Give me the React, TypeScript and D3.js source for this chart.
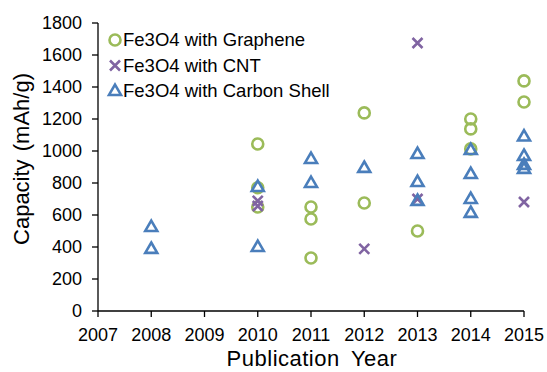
import React from 'react'
import * as d3 from 'd3'

const years = [2007, 2008, 2009, 2010, 2011, 2012, 2013, 2014, 2015]
const capTicks = [0, 200, 400, 600, 800, 1000, 1200, 1400, 1600, 1800]

const grapheneYears = [2010, 2010, 2010, 2011, 2011, 2011, 2012, 2012, 2013, 2014, 2014, 2014, 2015, 2015]
const grapheneCap = [1044, 770, 650, 650, 575, 331, 1238, 675, 500, 1200, 1138, 1013, 1438, 1306]

const cntYears = [2010, 2010, 2012, 2013, 2013, 2015]
const cntCap = [688, 656, 388, 1675, 700, 681]

const shellYears = [2008, 2008, 2010, 2010, 2011, 2011, 2012, 2013, 2013, 2013, 2014, 2014, 2014, 2014, 2015, 2015, 2015, 2015]
const shellCap = [525, 388, 775, 400, 950, 800, 894, 981, 806, 688, 1006, 856, 700, 613, 1090, 969, 913, 888]

const GREEN = '#9BBB59'
const PURPLE = '#8064A2'
const BLUE = '#4A7EBB'

const W = 547
const H = 372
const left = 98
const right = 524
const top = 23
const bottom = 311

const x = d3.scaleLinear().domain([2007, 2015]).range([left, right])
const y = d3.scaleLinear().domain([0, 1800]).range([bottom, top])

const triPath = (s) => {
  const h = (s * Math.sqrt(3)) / 2
  return `M0,${-h * 0.62}L${s / 2},${h * 0.38}L${-s / 2},${h * 0.38}Z`
}

const Circle = ({ cx, cy }) => (
  <circle cx={cx} cy={cy} r={5.5} fill="none" stroke={GREEN} strokeWidth={2.6} />
)
const Cross = ({ cx, cy }) => (
  <path
    transform={`translate(${cx},${cy})`}
    d="M-5,-5L5,5M-5,5L5,-5"
    stroke={PURPLE}
    strokeWidth={2.6}
    fill="none"
  />
)
const Tri = ({ cx, cy }) => (
  <path
    transform={`translate(${cx},${cy})`}
    d={triPath(12)}
    stroke={BLUE}
    strokeWidth={2.6}
    fill="none"
  />
)

const legend = [
  { label: 'Fe3O4 with Graphene', Mark: Circle },
  { label: 'Fe3O4 with CNT', Mark: Cross },
  { label: 'Fe3O4 with Carbon Shell', Mark: Tri },
]

export default function App() {
  const font = 'Arial, "Liberation Sans", sans-serif'
  return (
    <svg
      width={W}
      height={H}
      style={{ position: 'absolute', left: 0, top: 0, background: '#fff' }}
      fontFamily={font}
    >
      {/* axes */}
      <line x1={left} x2={left} y1={top} y2={bottom} stroke="#000" strokeWidth={1.3} />
      <line x1={left} x2={right} y1={bottom} y2={bottom} stroke="#000" strokeWidth={1.3} />
      {capTicks.map((t) => (
        <g key={t}>
          <line x1={left - 6} x2={left} y1={y(t)} y2={y(t)} stroke="#000" strokeWidth={1.3} />
          <text x={82} y={y(t)} dy="0.35em" textAnchor="end" fontSize={18} fill="#000">
            {t}
          </text>
        </g>
      ))}
      {years.map((t) => (
        <g key={t}>
          <line x1={x(t)} x2={x(t)} y1={bottom} y2={bottom + 6} stroke="#000" strokeWidth={1.3} />
          <text x={x(t)} y={341} textAnchor="middle" fontSize={18} fill="#000">
            {t}
          </text>
        </g>
      ))}
      <text
        x={312}
        y={366}
        textAnchor="middle"
        fontSize={22}
        wordSpacing={5}
        letterSpacing={0.5}
        fill="#000"
      >
        Publication Year
      </text>
      <text
        transform={`translate(29,159) rotate(-90)`}
        textAnchor="middle"
        fontSize={22}
        wordSpacing={2}
        fill="#000"
      >
        Capacity (mAh/g)
      </text>

      {/* points */}
      {grapheneYears.map((yr, i) => (
        <Circle key={'g' + i} cx={x(yr)} cy={y(grapheneCap[i])} />
      ))}
      {cntYears.map((yr, i) => (
        <Cross key={'c' + i} cx={x(yr)} cy={y(cntCap[i])} />
      ))}
      {shellYears.map((yr, i) => (
        <Tri key={'s' + i} cx={x(yr)} cy={y(shellCap[i])} />
      ))}

      {/* legend */}
      {legend.map((d, i) => (
        <g key={d.label}>
          <d.Mark cx={115} cy={40 + i * 25.5} />
          <text x={123} y={40 + i * 25.5} dy="0.35em" fontSize={18.5} fill="#000">
            {d.label}
          </text>
        </g>
      ))}
    </svg>
  )
}
